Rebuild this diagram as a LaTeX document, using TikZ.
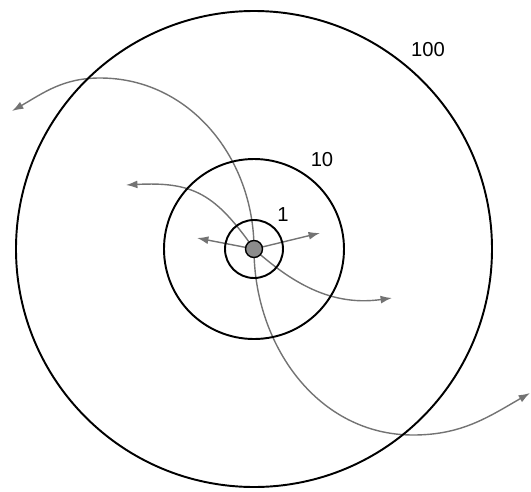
\documentclass[tikz,border=0pt]{standalone}
\usepackage{fontspec}
\setmainfont{Liberation Sans}
\usetikzlibrary{arrows.meta}

\begin{document}
\begin{tikzpicture}[x=0.02cm,y=0.02cm,>={Latex[length=6.5pt,width=4.5pt]},
  arm/.style={draw=black!55,line width=0.8pt,->},
  ring/.style={draw=black,line width=1.1pt},
  tag/.style={font=\fontsize{11.5}{13}\selectfont}]
\useasboundingbox (-254,-242) rectangle (277,249);
\coordinate (o) at (0,0);
\coordinate (atop) at (-154,171);
\coordinate (a) at (-242,138);
\coordinate (b) at (-128,64);
\coordinate (l) at (-57,11);
\coordinate (r) at (66,16);
\coordinate (c) at (138,-49);
\coordinate (dbot) at (159,-186);
\coordinate (d) at (276,-144);
\draw[arm](o)to[out=90,in=0](atop)to[out=180,in=30](a);
\draw[arm](o)to[out=125,in=3,looseness=1.2](b);
\draw[arm](o)--(l);
\draw[arm](o)--(r);
\draw[arm](o)to[out=-42,in=-172](c);
\draw[arm](o)to[out=-90,in=180](dbot)to[out=0,in=-150](d);
\draw[ring]
(o)circle[radius=29]
(o)circle[radius=90]
(o)circle[radius=238];
\filldraw[fill=black!45,line width=0.8pt](o)circle[radius=8.5];
\node[tag] (one) at (29,34) {1};
\node[tag] (ten) at (68,89) {10};
\node[tag] (hundred) at (174,199) {100};
\end{tikzpicture}
\end{document}
